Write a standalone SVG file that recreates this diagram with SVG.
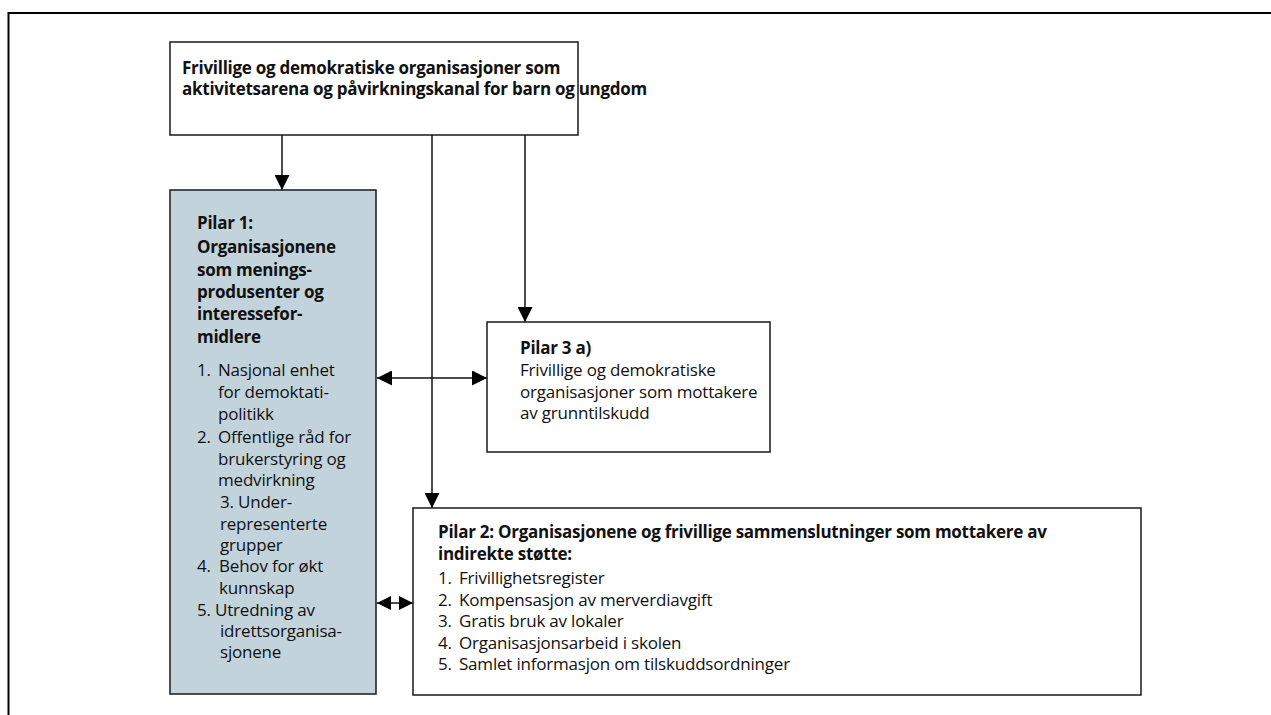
<svg xmlns="http://www.w3.org/2000/svg" width="1271" height="715" viewBox="0 0 1271 715">
<style>
  .box{fill:#ffffff;stroke:#1a1a1a;stroke-width:1.5}
  .pil1{fill:#c3d3dc;stroke:#1a1a1a;stroke-width:1.5}
  .t{font-family:"Open Sans","Liberation Sans",sans-serif;font-size:17px;fill:#111;letter-spacing:-0.2px}
  .b{font-weight:bold;letter-spacing:-0.27px}
  .c{fill:none;stroke:#111;stroke-width:1.5}
</style>
<defs>
  <marker id="ah" viewBox="0 0 15 15" refX="15" refY="7.5" markerWidth="15" markerHeight="15" markerUnits="userSpaceOnUse" orient="auto-start-reverse">
    <path d="M0,0 L15,7.5 L0,15 z" fill="#000"/>
  </marker>
  <marker id="ahs" viewBox="0 0 15 15" refX="15" refY="7.5" markerWidth="14" markerHeight="14" markerUnits="userSpaceOnUse" orient="auto-start-reverse">
    <path d="M0,0 L15,7.5 L0,15 z" fill="#000"/>
  </marker>
</defs>
<rect x="0" y="0" width="1271" height="715" fill="#ffffff"/>
<rect x="8.5" y="13" width="1400" height="900" fill="none" stroke="#000" stroke-width="2"/>

<g id="connectors">
  <line class="c" x1="282" y1="135" x2="282" y2="190" marker-end="url(#ah)"/>
  <line class="c" x1="432" y1="135" x2="432" y2="508" marker-end="url(#ah)"/>
  <line class="c" x1="525" y1="135" x2="525" y2="322" marker-end="url(#ah)"/>
  <line class="c" x1="377" y1="378" x2="487" y2="378" marker-start="url(#ah)" marker-end="url(#ah)"/>
  <line class="c" x1="377" y1="603" x2="413" y2="603" marker-start="url(#ahs)" marker-end="url(#ahs)"/>
</g>

<g id="top">
  <rect class="box" x="170" y="42" width="408" height="93"/>
  <text class="t b" x="182" y="74">Frivillige og demokratiske organisasjoner som</text>
  <text class="t b" x="182" y="95">aktivitetsarena og påvirkningskanal for barn og ungdom</text>
</g>

<g id="pilar1">
  <rect class="pil1" x="170" y="190" width="206" height="504"/>
  <text class="t b" x="197" y="229">Pilar 1:</text>
  <text class="t b" x="197" y="253">Organisasjonene</text>
  <text class="t b" x="197" y="276">som menings-</text>
  <text class="t b" x="197" y="298">produsenter og</text>
  <text class="t b" x="197" y="320">interessefor-</text>
  <text class="t b" x="197" y="343">midlere</text>
  <text class="t" x="197" y="376">1.</text>
  <text class="t" x="218" y="376">Nasjonal enhet</text>
  <text class="t" x="218" y="398">for demoktati-</text>
  <text class="t" x="218" y="420">politikk</text>
  <text class="t" x="197" y="443">2.</text>
  <text class="t" x="218" y="443">Offentlige råd for</text>
  <text class="t" x="218" y="465">brukerstyring og</text>
  <text class="t" x="218" y="486">medvirkning</text>
  <text class="t" x="220" y="508">3. Under-</text>
  <text class="t" x="220" y="530">representerte</text>
  <text class="t" x="220" y="551">grupper</text>
  <text class="t" x="197" y="572">4.</text>
  <text class="t" x="219" y="572">Behov for økt</text>
  <text class="t" x="219" y="594">kunnskap</text>
  <text class="t" x="197" y="616">5. Utredning av</text>
  <text class="t" x="220" y="637">idrettsorganisa-</text>
  <text class="t" x="220" y="658">sjonene</text>
</g>

<g id="pilar3">
  <rect class="box" x="487" y="322" width="283" height="130"/>
  <text class="t b" x="520" y="354">Pilar 3 a)</text>
  <text class="t" x="520" y="376">Frivillige og demokratiske</text>
  <text class="t" x="520" y="398">organisasjoner som mottakere</text>
  <text class="t" x="520" y="419">av grunntilskudd</text>
</g>

<g id="pilar2">
  <rect class="box" x="413" y="508" width="728" height="187"/>
  <text class="t b" x="438" y="538">Pilar 2: Organisasjonene og frivillige sammenslutninger som mottakere av</text>
  <text class="t b" x="438" y="560">indirekte støtte:</text>
  <text class="t" x="438" y="584">1.</text>
  <text class="t" x="459" y="584">Frivillighetsregister</text>
  <text class="t" x="438" y="606">2.</text>
  <text class="t" x="459" y="606">Kompensasjon av merverdiavgift</text>
  <text class="t" x="438" y="627">3.</text>
  <text class="t" x="459" y="627">Gratis bruk av lokaler</text>
  <text class="t" x="438" y="649">4.</text>
  <text class="t" x="459" y="649">Organisasjonsarbeid i skolen</text>
  <text class="t" x="438" y="670">5.</text>
  <text class="t" x="459" y="670">Samlet informasjon om tilskuddsordninger</text>
</g>
</svg>
